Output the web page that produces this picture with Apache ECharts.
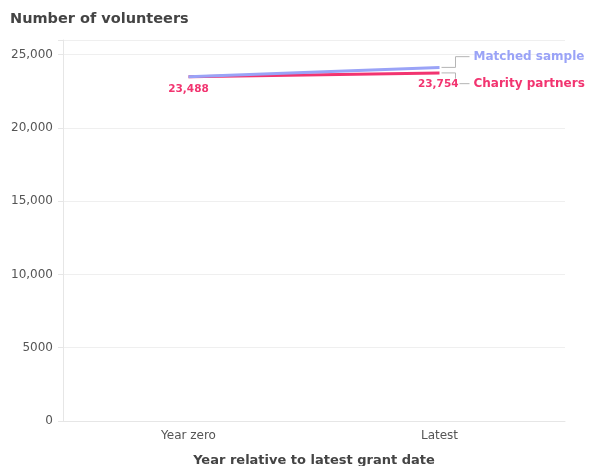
<!DOCTYPE html>
<html><head><meta charset="utf-8">
<script src="https://cdn.jsdelivr.net/npm/echarts@6/dist/echarts.min.js"></script>
<style>html,body{margin:0;padding:0;background:#fff}#c{width:590px;height:466px}</style>
</head><body><div id="c"></div>
<script>
const categories = ['Year zero', 'Latest'];
const matchedSample = [23500, 24130];
const charityPartners = [23488, 23754];
const seriesNames = ['Matched sample', 'Charity partners'];
const yTicks = [0, 5000, 10000, 15000, 20000, 25000];

const FONT = '"DejaVu Sans", Verdana, sans-serif';
const BLUE = '#9aa3f7';
const PINK = '#f23470';
const fmt = v => v >= 10000 ? v.toLocaleString('en-US') : String(v);

const chart = echarts.init(document.getElementById('c'), null, {renderer: 'canvas'});
chart.setOption({
  animation: false,
  textStyle: {fontFamily: FONT},
  title: {text: 'Number of volunteers', left: 10, top: 12, padding: 0,
    textStyle: {fontFamily: FONT, fontSize: 14.5, fontWeight: 'bold', color: '#444'}},
  grid: {left: 63, right: 25, top: 40, bottom: 45, outerBoundsMode: 'none', containLabel: false},
  xAxis: {type: 'category', data: categories, boundaryGap: true,
    name: 'Year relative to latest grant date', nameLocation: 'middle', nameGap: 33,
    nameTextStyle: {fontFamily: FONT, fontSize: 13, fontWeight: 'bold', color: '#444'},
    axisLine: {lineStyle: {color: '#e6e6e6'}},
    axisTick: {alignWithLabel: true, length: 5, lineStyle: {color: '#e6e6e6'}},
    axisLabel: {fontFamily: FONT, fontSize: 12, color: '#555', margin: 9}},
  yAxis: {type: 'value', min: 0, max: 26000, interval: 5000,
    axisLine: {show: true, lineStyle: {color: '#e6e6e6'}},
    axisTick: {show: true, length: 5, lineStyle: {color: '#e6e6e6'}},
    splitLine: {lineStyle: {color: '#efefef'}},
    axisLabel: {fontFamily: FONT, fontSize: 12, color: '#555', margin: 10,
      formatter: v => yTicks.includes(v) ? fmt(v) : ''}},
  series: [
    {name: seriesNames[1], type: 'line', data: charityPartners, symbol: 'none',
      lineStyle: {color: PINK, width: 3}, z: 2},
    {name: seriesNames[0], type: 'line', data: matchedSample, symbol: 'none',
      lineStyle: {color: BLUE, width: 3}, z: 3}
  ]
});

function drawAnnotations() {
  const pEnd = chart.convertToPixel({seriesIndex: 0}, [1, charityPartners[1]]);
  const mEnd = chart.convertToPixel({seriesIndex: 1}, [1, matchedSample[1]]);
  const pStart = chart.convertToPixel({seriesIndex: 0}, [0, charityPartners[0]]);
  const elbowX = pEnd[0] + 16;
  const mid = (pEnd[1] + mEnd[1]) / 2;
  const mLabelY = mid - 13.5, pLabelY = mid + 13.5;
  const lbl = {fontFamily: FONT, fontSize: 12, fontWeight: 'bold'};
  const gray = {stroke: '#b5b5b5', lineWidth: 1, fill: null};
  chart.setOption({graphic: [
    {type: 'polyline', shape: {points: [[mEnd[0] + 2, mEnd[1]], [elbowX, mEnd[1]], [elbowX, mLabelY], [elbowX + 14, mLabelY]]}, style: gray, silent: true},
    {type: 'polyline', shape: {points: [[pEnd[0] + 2, pEnd[1]], [elbowX, pEnd[1]], [elbowX, pLabelY - 5]]}, style: gray, silent: true},
    {type: 'polyline', shape: {points: [[elbowX + 4, pLabelY], [elbowX + 14, pLabelY]]}, style: gray, silent: true},
    {type: 'text', x: elbowX + 18, y: mLabelY, style: Object.assign({text: seriesNames[0], fill: BLUE, verticalAlign: 'middle', align: 'left'}, lbl)},
    {type: 'text', x: elbowX + 18, y: pLabelY, style: Object.assign({text: seriesNames[1], fill: PINK, verticalAlign: 'middle', align: 'left'}, lbl)},
    {type: 'text', x: elbowX + 3, y: pLabelY + 1, style: {text: fmt(charityPartners[1]), fill: PINK, verticalAlign: 'middle', align: 'right', fontFamily: FONT, fontSize: 10.5, fontWeight: 'bold'}},
    {type: 'text', x: pStart[0], y: pStart[1] + 12, style: {text: fmt(charityPartners[0]), fill: PINK, verticalAlign: 'middle', align: 'center', fontFamily: FONT, fontSize: 10.5, fontWeight: 'bold'}}
  ]});
}
drawAnnotations();
</script></body></html>
